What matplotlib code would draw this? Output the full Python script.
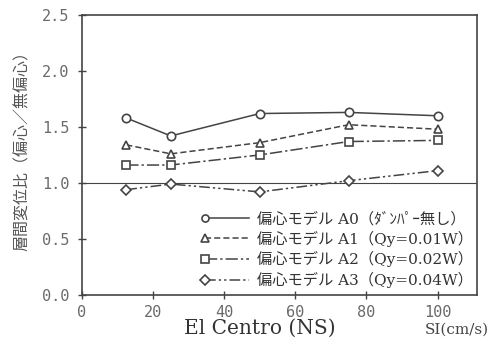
import matplotlib
matplotlib.use('Agg')
import matplotlib.pyplot as plt
from matplotlib.legend_handler import HandlerLine2D

# SI values (cm/s)
si = [12.5, 25, 50, 75, 100]

# interstory drift ratio (eccentric / non-eccentric)
a0 = [1.58, 1.42, 1.62, 1.63, 1.60]
a1 = [1.34, 1.26, 1.36, 1.52, 1.48]
a2 = [1.16, 1.16, 1.25, 1.37, 1.38]
a3 = [0.94, 0.99, 0.92, 1.02, 1.11]

labels = ['偏心モデル A0（ﾀﾞﾝﾊﾟｰ無し）',
          '偏心モデル A1（Qy=0.01W）',
          '偏心モデル A2（Qy=0.02W）',
          '偏心モデル A3（Qy=0.04W）']

xticks = [0, 20, 40, 60, 80, 100]
yticks = [0.0, 0.5, 1.0, 1.5, 2.0, 2.5]

ink = '#444444'
jp = ['DejaVu Serif', 'Noto Sans CJK JP']


class LeftMarker(HandlerLine2D):
    # legend marker drawn at the left end of the line
    def create_artists(self, legend, orig_handle, xdescent, ydescent,
                       width, height, fontsize, trans):
        arts = super().create_artists(legend, orig_handle, xdescent, ydescent,
                                      width, height, fontsize, trans)
        arts[0].set_markevery([0])
        return arts


fig = plt.figure(figsize=(4.9, 3.49), dpi=100)
ax = fig.add_axes([0.167, 0.155, 0.806, 0.802])

styles = [('-', 'o'), ((0, (4, 2)), '^'), ((0, (8, 2, 1.5, 2)), 's'),
          ((0, (7, 2, 1.5, 2, 1.5, 2)), 'D')]
series = [a0, a1, a2, a3]
handles = []
for vals, (ls, mk), lab in zip(series, styles, labels):
    ms = 5.5 if mk == 'D' else 6
    h, = ax.plot(si, vals, linestyle=ls, marker=mk, color=ink, lw=1.1,
                 markerfacecolor='white', markeredgecolor=ink, markersize=ms,
                 markeredgewidth=1.2, label=lab)
    handles.append(h)

ax.axhline(1.0, color=ink, lw=0.8, zorder=0)

ax.set_xlim(0, 111)
ax.set_ylim(0, 2.5)
ax.set_xticks(xticks)
ax.set_yticks(yticks)
ax.set_yticklabels(['%.1f' % v for v in yticks])
ax.tick_params(direction='inout', length=6, width=1, colors=ink,
               labelsize=11, labelcolor='#6a6a6a', pad=4)
ax.tick_params(axis='y', pad=6)
for t in ax.get_xticklabels() + ax.get_yticklabels():
    t.set_family('DejaVu Sans Mono')
for s in ax.spines.values():
    s.set_color(ink)
    s.set_linewidth(1.2)

ax.set_ylabel('層間変位比（偏心／無偏心）', family=['Noto Sans CJK JP'],
              fontsize=11.5, color='#555555', labelpad=4)
ax.yaxis.set_label_coords(-0.13, 0.53)

fig.text(0.53, 0.058, 'El Centro (NS)', family='DejaVu Serif',
         fontsize=14.5, color='#333333', ha='center', va='center')
fig.text(0.997, 0.055, 'SI(cm/s)', family='DejaVu Serif', fontsize=11,
         color='#444444', ha='right', va='center')

leg = ax.legend(handles=handles, loc='lower right', frameon=False,
                handler_map={h: LeftMarker(numpoints=1) for h in handles},
                prop={'family': jp, 'size': 11}, handlelength=2.9,
                handletextpad=0.5, labelspacing=0.3, markerscale=0.85,
                bbox_to_anchor=(1.025, -0.025))
for t in leg.get_texts():
    t.set_color('#333333')

fig.savefig('out.png', dpi=100)
